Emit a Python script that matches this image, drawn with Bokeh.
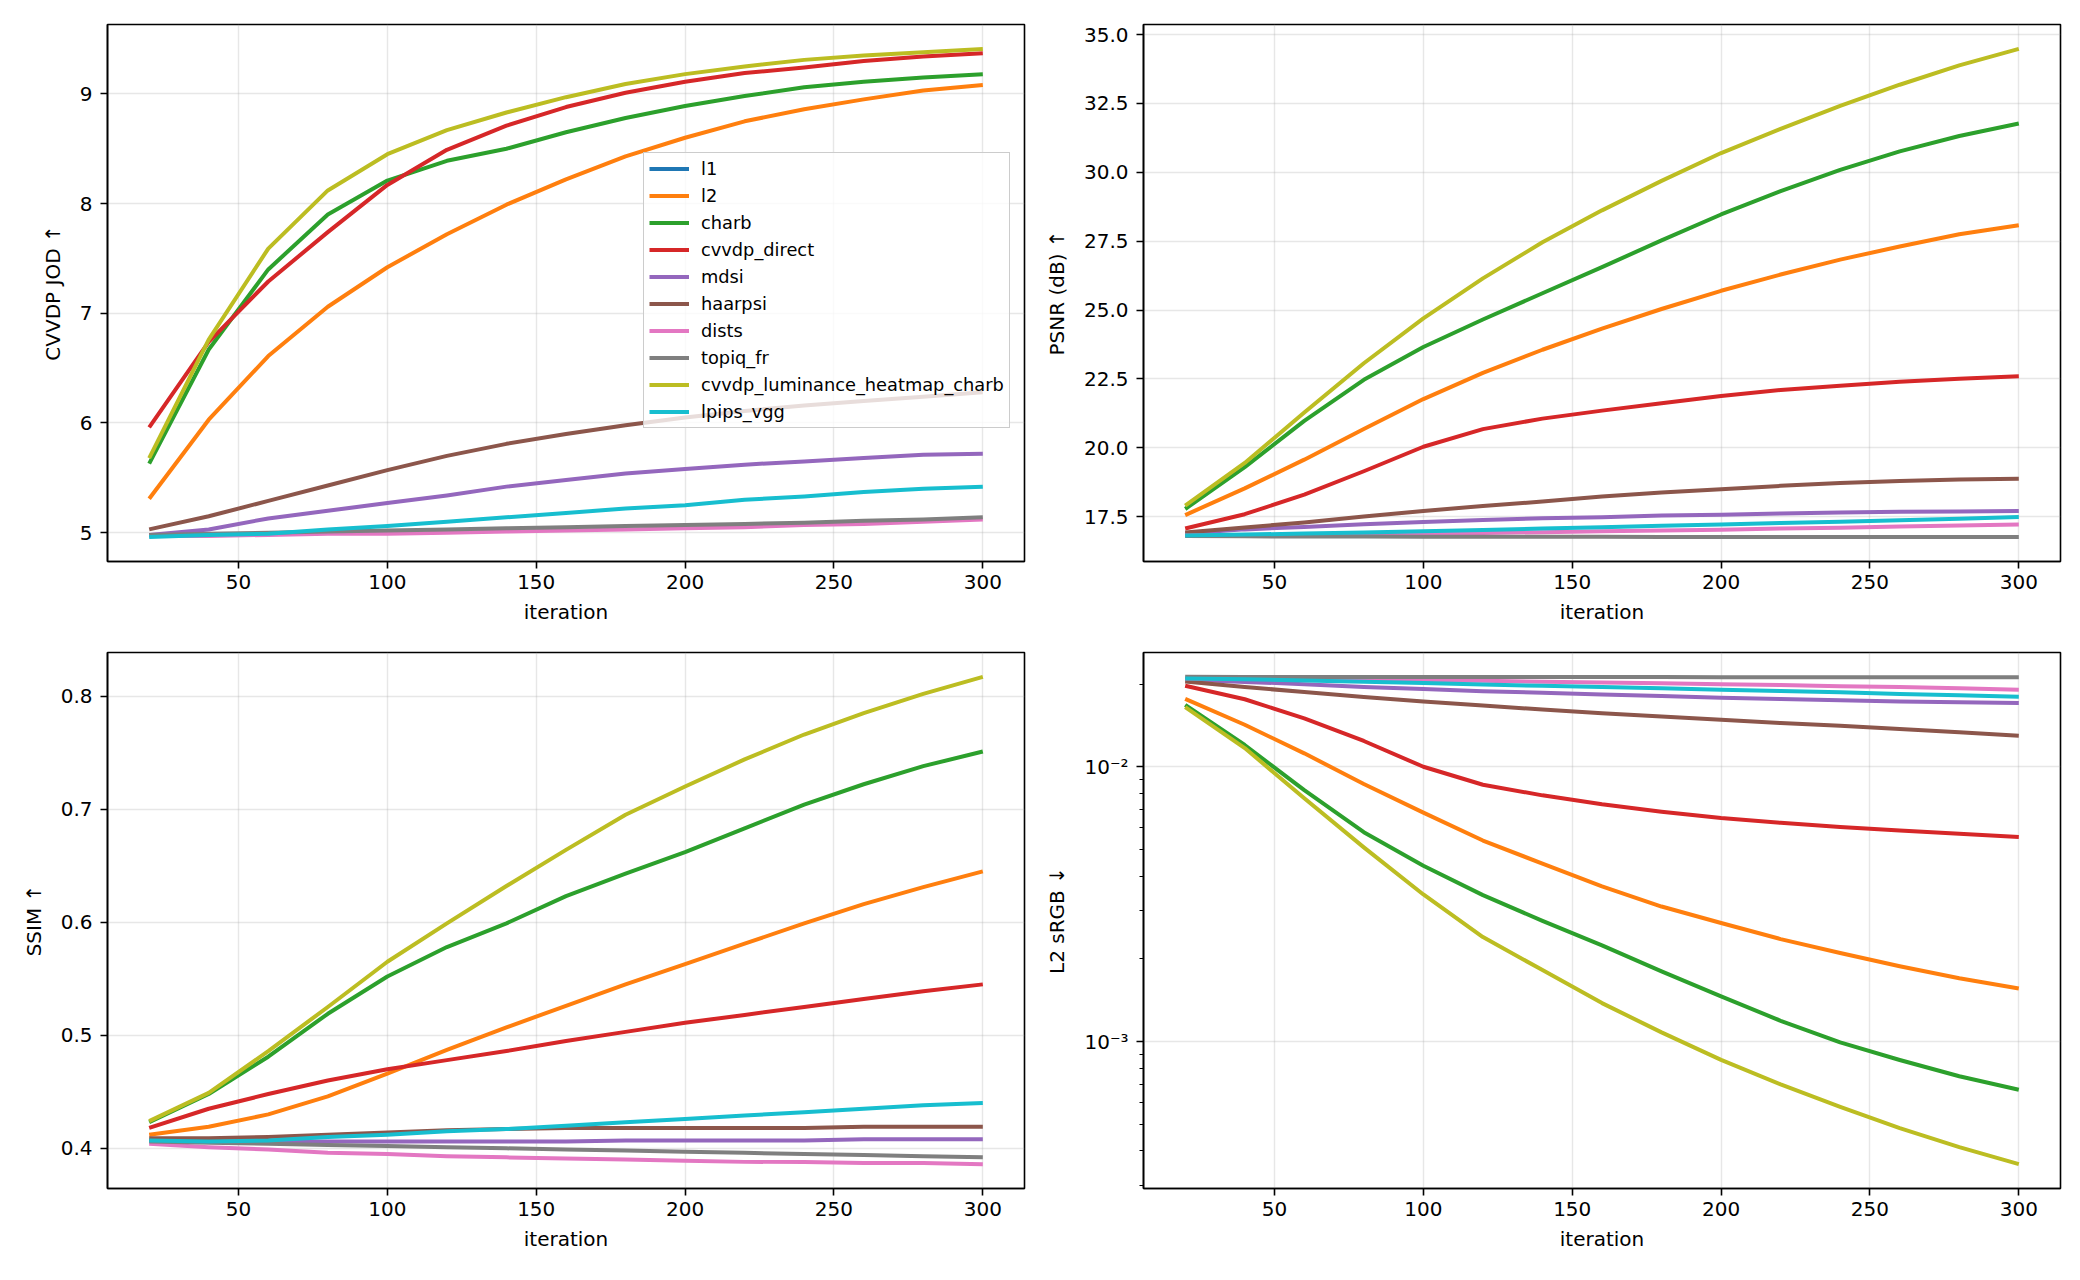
import math

from bokeh.embed import file_html
from bokeh.layouts import gridplot
from bokeh.models import (CustomJSTickFormatter, FixedTicker, Legend, LegendItem,
                          NumeralTickFormatter, Range1d)
from bokeh.plotting import figure
from bokeh.resources import INLINE

# ---------------------------------------------------------------- data
ITERATIONS = [20, 40, 60, 80, 100, 120, 140, 160, 180, 200, 220, 240, 260, 280, 300]

METHODS = ["l1", "l2", "charb", "cvvdp_direct", "mdsi", "haarpsi", "dists",
           "topiq_fr", "cvvdp_luminance_heatmap_charb", "lpips_vgg"]
COLORS = ["#1f77b4", "#ff7f0e", "#2ca02c", "#d62728", "#9467bd", "#8c564b",
          "#e377c2", "#7f7f7f", "#bcbd22", "#17becf"]

NA = float("nan")
NO_RUN = [NA] * len(ITERATIONS)  # the l1 run has no recorded values

# CVVDP JOD (higher is better)
jod_l1 = NO_RUN
jod_l2 = [5.31, 6.03, 6.61, 7.06, 7.42, 7.72, 7.99, 8.22, 8.43, 8.60, 8.75, 8.86, 8.95, 9.03, 9.08]
jod_charb = [5.63, 6.67, 7.40, 7.90, 8.21, 8.39, 8.50, 8.65, 8.78, 8.89, 8.98, 9.06, 9.11, 9.15, 9.18]
jod_cvvdp_direct = [5.96, 6.74, 7.29, 7.74, 8.17, 8.49, 8.71, 8.88, 9.01, 9.11, 9.19, 9.24, 9.30, 9.34, 9.37]
jod_mdsi = [4.98, 5.03, 5.13, 5.20, 5.27, 5.34, 5.42, 5.48, 5.54, 5.58, 5.62, 5.65, 5.68, 5.71, 5.72]
jod_haarpsi = [5.03, 5.15, 5.29, 5.43, 5.57, 5.70, 5.81, 5.90, 5.98, 6.05, 6.11, 6.16, 6.20, 6.24, 6.28]
jod_dists = [4.97, 4.97, 4.98, 4.99, 4.99, 5.00, 5.01, 5.02, 5.03, 5.04, 5.05, 5.07, 5.08, 5.10, 5.12]
jod_topiq_fr = [4.98, 4.99, 5.00, 5.01, 5.02, 5.03, 5.04, 5.05, 5.06, 5.07, 5.08, 5.09, 5.11, 5.12, 5.14]
jod_lum_heatmap = [5.68, 6.76, 7.59, 8.12, 8.45, 8.67, 8.83, 8.97, 9.09, 9.18, 9.25, 9.31, 9.35, 9.38, 9.41]
jod_lpips_vgg = [4.96, 4.98, 4.99, 5.03, 5.06, 5.10, 5.14, 5.18, 5.22, 5.25, 5.30, 5.33, 5.37, 5.40, 5.42]

# PSNR in dB (higher is better)
psnr_l1 = NO_RUN
psnr_l2 = [17.56, 18.53, 19.57, 20.68, 21.77, 22.72, 23.56, 24.33, 25.04, 25.70, 26.29, 26.83, 27.31, 27.75, 28.08]
psnr_charb = [17.78, 19.30, 20.98, 22.47, 23.66, 24.66, 25.61, 26.56, 27.53, 28.47, 29.32, 30.09, 30.76, 31.32, 31.77]
psnr_cvvdp_direct = [17.07, 17.59, 18.30, 19.15, 20.04, 20.68, 21.06, 21.35, 21.62, 21.88, 22.10, 22.25, 22.40, 22.51, 22.60]
psnr_mdsi = [16.89, 17.04, 17.13, 17.23, 17.31, 17.38, 17.44, 17.48, 17.54, 17.57, 17.62, 17.65, 17.68, 17.69, 17.71]
psnr_haarpsi = [16.93, 17.11, 17.29, 17.51, 17.71, 17.89, 18.05, 18.23, 18.38, 18.50, 18.62, 18.72, 18.80, 18.85, 18.88]
psnr_dists = [16.82, 16.83, 16.84, 16.86, 16.88, 16.91, 16.94, 16.97, 17.00, 17.03, 17.07, 17.10, 17.14, 17.18, 17.22]
psnr_topiq_fr = [16.80, 16.79, 16.78, 16.78, 16.77, 16.77, 16.77, 16.77, 16.76, 16.76, 16.76, 16.76, 16.76, 16.76, 16.76]
psnr_lum_heatmap = [17.90, 19.45, 21.28, 23.07, 24.70, 26.15, 27.46, 28.62, 29.69, 30.70, 31.58, 32.41, 33.18, 33.88, 34.48]
psnr_lpips_vgg = [16.82, 16.85, 16.89, 16.93, 16.97, 17.02, 17.07, 17.12, 17.17, 17.22, 17.27, 17.32, 17.37, 17.43, 17.49]

# SSIM (higher is better)
ssim_l1 = NO_RUN
ssim_l2 = [0.412, 0.419, 0.430, 0.446, 0.466, 0.487, 0.507, 0.526, 0.545, 0.563, 0.581, 0.599, 0.616, 0.631, 0.645]
ssim_charb = [0.423, 0.448, 0.481, 0.519, 0.552, 0.578, 0.599, 0.623, 0.643, 0.662, 0.683, 0.704, 0.722, 0.738, 0.751]
ssim_cvvdp_direct = [0.418, 0.435, 0.448, 0.460, 0.470, 0.478, 0.486, 0.495, 0.503, 0.511, 0.518, 0.525, 0.532, 0.539, 0.545]
ssim_mdsi = [0.407, 0.406, 0.406, 0.406, 0.406, 0.406, 0.406, 0.406, 0.407, 0.407, 0.407, 0.407, 0.408, 0.408, 0.408]
ssim_haarpsi = [0.409, 0.409, 0.410, 0.412, 0.414, 0.416, 0.417, 0.418, 0.418, 0.418, 0.418, 0.418, 0.419, 0.419, 0.419]
ssim_dists = [0.404, 0.401, 0.399, 0.396, 0.395, 0.393, 0.392, 0.391, 0.390, 0.389, 0.388, 0.388, 0.387, 0.387, 0.386]
ssim_topiq_fr = [0.406, 0.405, 0.404, 0.403, 0.402, 0.401, 0.400, 0.399, 0.398, 0.397, 0.396, 0.395, 0.394, 0.393, 0.392]
ssim_lum_heatmap = [0.424, 0.449, 0.486, 0.525, 0.565, 0.599, 0.632, 0.664, 0.695, 0.720, 0.744, 0.766, 0.785, 0.802, 0.817]
ssim_lpips_vgg = [0.407, 0.406, 0.407, 0.410, 0.412, 0.415, 0.417, 0.420, 0.423, 0.426, 0.429, 0.432, 0.435, 0.438, 0.440]

# L2 error in sRGB (lower is better)
l2err_l1 = NO_RUN
l2err_l2 = [0.01766, 0.01422, 0.01119, 0.00866, 0.00681, 0.00539, 0.00444, 0.00367, 0.00310, 0.00270, 0.00236, 0.00210, 0.00188, 0.00170, 0.00156]
l2err_charb = [0.01679, 0.01200, 0.00822, 0.00578, 0.00436, 0.00341, 0.00275, 0.00224, 0.00180, 0.00146, 0.00119, 0.000993, 0.000857, 0.000748, 0.000668]
l2err_cvvdp_direct = [0.01972, 0.01761, 0.01500, 0.01241, 0.01000, 0.00860, 0.00787, 0.00730, 0.00686, 0.00651, 0.00625, 0.00604, 0.00586, 0.00570, 0.00555]
l2err_mdsi = [0.02076, 0.02036, 0.01998, 0.01950, 0.01918, 0.01884, 0.01859, 0.01833, 0.01808, 0.01783, 0.01764, 0.01746, 0.01729, 0.01718, 0.01706]
l2err_haarpsi = [0.02042, 0.01951, 0.01871, 0.01795, 0.01729, 0.01671, 0.01615, 0.01566, 0.01524, 0.01482, 0.01442, 0.01409, 0.01371, 0.01334, 0.01297]
l2err_dists = [0.02097, 0.02090, 0.02083, 0.02076, 0.02061, 0.02054, 0.02040, 0.02026, 0.02012, 0.01998, 0.01985, 0.01965, 0.01951, 0.01931, 0.01905]
l2err_topiq_fr = [0.02124, 0.02123, 0.02122, 0.02122, 0.02121, 0.02121, 0.02120, 0.02120, 0.02120, 0.02119, 0.02119, 0.02119, 0.02118, 0.02118, 0.02118]
l2err_lum_heatmap = [0.01648, 0.01170, 0.00768, 0.00509, 0.00343, 0.00240, 0.00182, 0.00138, 0.00108, 0.000858, 0.000698, 0.000578, 0.000484, 0.000413, 0.000358]
l2err_lpips_vgg = [0.02097, 0.02083, 0.02061, 0.02040, 0.02018, 0.01991, 0.01970, 0.01951, 0.01931, 0.01905, 0.01885, 0.01866, 0.01840, 0.01821, 0.01797]

JOD = [jod_l1, jod_l2, jod_charb, jod_cvvdp_direct, jod_mdsi, jod_haarpsi,
       jod_dists, jod_topiq_fr, jod_lum_heatmap, jod_lpips_vgg]
PSNR = [psnr_l1, psnr_l2, psnr_charb, psnr_cvvdp_direct, psnr_mdsi, psnr_haarpsi,
        psnr_dists, psnr_topiq_fr, psnr_lum_heatmap, psnr_lpips_vgg]
SSIM = [ssim_l1, ssim_l2, ssim_charb, ssim_cvvdp_direct, ssim_mdsi, ssim_haarpsi,
        ssim_dists, ssim_topiq_fr, ssim_lum_heatmap, ssim_lpips_vgg]
L2ERR = [l2err_l1, l2err_l2, l2err_charb, l2err_cvvdp_direct, l2err_mdsi, l2err_haarpsi,
         l2err_dists, l2err_topiq_fr, l2err_lum_heatmap, l2err_lpips_vgg]

X_TICKS = [50, 100, 150, 200, 250, 300]

# ---------------------------------------------------------------- styling
FONT = "DejaVu Sans"
LINE_W = 4


def padded(lo, hi, frac=0.05):
    span = hi - lo
    return lo - frac * span, hi + frac * span


def finite_values(series):
    return [v for s in series for v in s if not math.isnan(v)]


def make_panel(series, ylabel, y_ticks, y_fmt, left_col, top_row, log=False):
    x_lo, x_hi = padded(min(ITERATIONS), max(ITERATIONS))
    vals = finite_values(series)
    if log:
        lo, hi = padded(math.log10(min(vals)), math.log10(max(vals)))
        y_range = Range1d(10 ** lo, 10 ** hi)
    else:
        lo, hi = padded(min(vals), max(vals))
        y_range = Range1d(lo, hi)

    p = figure(
        width=1040, height=640,
        x_range=Range1d(x_lo, x_hi), y_range=y_range,
        y_axis_type="log" if log else "linear",
        output_backend="svg", toolbar_location=None,
        min_border_left=107 if left_col else 103,
        min_border_right=16 if left_col else 20,
        min_border_top=24 if top_row else 12,
        min_border_bottom=79 if top_row else 92,
        background_fill_color="white", border_fill_color="white",
    )
    p.outline_line_color = "black"
    p.outline_line_width = 1.6
    p.outline_line_alpha = 1.0

    for grid in (p.xgrid[0], p.ygrid[0]):
        grid.grid_line_color = "#b0b0b0"
        grid.grid_line_alpha = 0.3
        grid.grid_line_width = 1.4

    renderers = []
    for vals_i, color in zip(series, COLORS):
        r = p.line(ITERATIONS, vals_i, line_color=color,
                   line_width=LINE_W, line_join="round")
        renderers.append(r)

    xa = p.xaxis[0]
    xa.ticker = FixedTicker(ticks=X_TICKS)
    xa.axis_label = "iteration"
    xa.major_label_standoff = 6
    xa.axis_label_standoff = 8

    ya = p.yaxis[0]
    ya.axis_label = ylabel
    ya.major_label_standoff = 8
    ya.axis_label_standoff = 12
    if log:
        ya.ticker = FixedTicker(
            ticks=y_ticks,
            minor_ticks=[k * 1e-4 for k in range(2, 10)] + [k * 1e-3 for k in range(2, 10)]
            + [k * 1e-2 for k in range(2, 10)])
        ya.formatter = CustomJSTickFormatter(code="""
            const sup = {'-': '\u207b', '0': '\u2070', '1': '\u00b9', '2': '\u00b2',
                         '3': '\u00b3', '4': '\u2074', '5': '\u2075', '6': '\u2076',
                         '7': '\u2077', '8': '\u2078', '9': '\u2079'};
            const e = Math.round(Math.log10(tick));
            return '10' + String(e).split('').map(c => sup[c]).join('');
        """)
        ya.minor_tick_out = 4
        ya.minor_tick_in = 0
        ya.minor_tick_line_width = 1.2
        ya.minor_tick_line_color = "black"
    else:
        ya.ticker = FixedTicker(ticks=y_ticks)
        ya.formatter = NumeralTickFormatter(format=y_fmt)

    for ax in (xa, ya):
        ax.axis_line_color = "black"
        ax.axis_line_width = 1.6
        ax.major_tick_in = 0
        ax.major_tick_out = 7
        ax.major_tick_line_width = 1.6
        ax.major_tick_line_color = "black"
        if ax is xa or not log:
            ax.minor_tick_line_color = None
        ax.major_label_text_font = FONT
        ax.major_label_text_font_size = "20px"
        ax.major_label_text_color = "black"
        ax.axis_label_text_font = FONT
        ax.axis_label_text_font_size = "20px"
        ax.axis_label_text_font_style = "normal"
        ax.axis_label_text_color = "black"
    return p, renderers


p_jod, jod_renderers = make_panel(JOD, "CVVDP JOD \u2191", [5, 6, 7, 8, 9], "0",
                                  left_col=True, top_row=True)
p_psnr, _ = make_panel(PSNR, "PSNR (dB) \u2191", [17.5, 20, 22.5, 25, 27.5, 30, 32.5, 35],
                       "0.0", left_col=False, top_row=True)
p_ssim, _ = make_panel(SSIM, "SSIM \u2191", [0.4, 0.5, 0.6, 0.7, 0.8], "0.0",
                       left_col=True, top_row=False)
p_l2, _ = make_panel(L2ERR, "L2 sRGB \u2193", [1e-3, 1e-2], None,
                     left_col=False, top_row=False, log=True)

legend = Legend(
    items=[LegendItem(label=name, renderers=[r]) for name, r in zip(METHODS, jod_renderers)],
    location=(536, 133),
    label_text_font=FONT, label_text_font_size="17.8px", label_text_color="black",
    glyph_width=40, glyph_height=21, label_height=21, label_standoff=12,
    spacing=6, padding=5, margin=0,
    border_line_color="#cccccc", border_line_width=1.4, border_line_alpha=1.0,
    background_fill_color="white", background_fill_alpha=0.8,
)
p_jod.add_layout(legend)

grid = gridplot([[p_jod, p_psnr], [p_ssim, p_l2]], toolbar_location=None)

with open("out.html", "w") as f:
    f.write(file_html(grid, INLINE, title="Optimisation metrics vs iteration"))
